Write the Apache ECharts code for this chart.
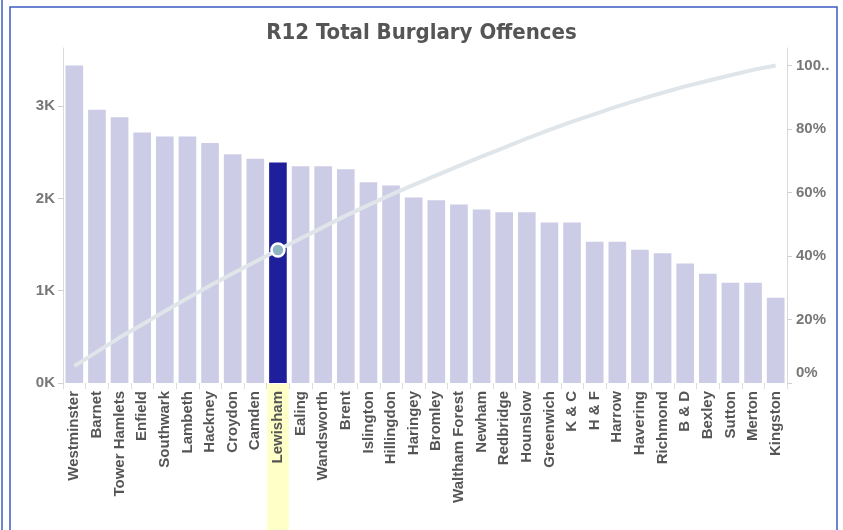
<!DOCTYPE html>
<html>
<head>
<meta charset="utf-8">
<title>R12 Total Burglary Offences</title>
<script src="https://cdn.jsdelivr.net/npm/echarts@6.0.0/dist/echarts.min.js"></script>
<style>
  html, body { margin: 0; padding: 0; background: #fff; }
  #burglary-chart { width: 843px; height: 530px; }
</style>
</head>
<body>
<div id="burglary-chart"></div>
<script>
// 数据
const boroughs = ['Westminster', 'Barnet', 'Tower Hamlets', 'Enfield', 'Southwark', 'Lambeth', 'Hackney',
  'Croydon', 'Camden', 'Lewisham', 'Ealing', 'Wandsworth', 'Brent', 'Islington', 'Hillingdon', 'Haringey',
  'Bromley', 'Waltham Forest', 'Newham', 'Redbridge', 'Hounslow', 'Greenwich', 'K & C', 'H & F', 'Harrow',
  'Havering', 'Richmond', 'B & D', 'Bexley', 'Sutton', 'Merton', 'Kingston']
const offences = [3440, 2960, 2880, 2715, 2670, 2670, 2600, 2480, 2430, 2390, 2350, 2350, 2315, 2175, 2140,
  2010, 1980, 1935, 1880, 1850, 1850, 1740, 1740, 1530, 1530, 1445, 1405, 1295, 1185, 1085, 1085, 925]
// running total % (line, right axis)
const runningPct = [5.3, 9.8, 14.3, 18.4, 22.6, 26.7, 30.7, 34.5, 38.2, 41.9, 45.5, 49.1, 52.7, 56.0, 59.3,
  62.4, 65.4, 68.4, 71.3, 74.1, 77.0, 79.7, 82.3, 84.7, 87.1, 89.3, 91.4, 93.4, 95.2, 96.9, 98.6, 100]
const countTicks = [0, 1000, 2000, 3000]
const pctTicks = [0, 20, 40, 60, 80, 100]
const selected = 'Lewisham'

const LABEL_FONT = '"Liberation Sans", Arial, sans-serif'

let chart = echarts.init(document.getElementById('burglary-chart'), null, {renderer: 'canvas'})

let barData = offences.map((v, i) => {
  if (boroughs[i] === selected) {
    return {value: v, itemStyle: {color: '#1f1f9c'}}
  }
  return v
})

let lineData = runningPct.map((v, i) => {
  if (boroughs[i] === selected) {
    return {
      value: v,
      symbol: 'circle',
      symbolSize: 13,
      itemStyle: {color: '#8fb5c3', borderColor: '#fff', borderWidth: 2.5}
    }
  }
  return {value: v, symbol: 'none'}
})

let option = {
  animation: false,
  title: {
    text: 'R12 Total Burglary Offences',
    left: 'center',
    top: 17,
    textStyle: {
      fontFamily: '"DejaVu Sans Condensed", sans-serif',
      fontSize: 22,
      fontWeight: 'bold',
      color: '#555'
    }
  },
  grid: {
    left: 63,
    right: 56,
    top: 48,
    bottom: 147,
    containLabel: false,
    outerBoundsMode: 'none'
  },
  xAxis: {
    type: 'category',
    data: boroughs,
    boundaryGap: true,
    axisLine: {show: false},
    axisTick: {
      show: true,
      length: 6,
      lineStyle: {color: '#dcdcdc'}
    },
    axisLabel: {
      rotate: 90,
      interval: 0,
      margin: 1,
      formatter: (name) => name === selected ? '{hl|' + name + '}' : '{n|' + name + '}',
      rich: {
        n: {
          fontFamily: LABEL_FONT,
          fontSize: 15,
          fontWeight: 'bold',
          lineHeight: 16,
          color: '#555',
          padding: [0, 7, 0, 0]
        },
        hl: {
          fontFamily: LABEL_FONT,
          fontSize: 15,
          fontWeight: 'bold',
          lineHeight: 16,
          color: '#555',
          backgroundColor: '#ffffc8',
          padding: [3.3, 7, 3.3, 80]
        }
      }
    }
  },
  yAxis: [
    {
      type: 'value',
      position: 'left',
      min: 0,
      max: 3630,
      splitLine: {show: false},
      axisLine: {show: true, lineStyle: {color: '#d9d9d9'}},
      axisTick: {show: true, length: 5, customValues: countTicks, lineStyle: {color: '#d0d0d0'}},
      axisLabel: {
        customValues: countTicks,
        margin: 8,
        fontFamily: LABEL_FONT,
        fontSize: 15,
        fontWeight: 'bold',
        color: '#777',
        formatter: (v) => (v / 1000) + 'K'
      }
    },
    {
      type: 'value',
      position: 'right',
      min: 0,
      max: 105.5,
      splitLine: {show: false},
      axisLine: {show: true, lineStyle: {color: '#d9d9d9'}},
      axisTick: {show: true, length: 5, customValues: pctTicks, lineStyle: {color: '#d0d0d0'}},
      axisLabel: {
        customValues: pctTicks,
        margin: 9,
        fontFamily: LABEL_FONT,
        fontSize: 15,
        fontWeight: 'bold',
        color: '#777',
        // 0% sits above its tick, 100% is cut short
        formatter: (v) => v === 0 ? '{z|0%}' : (v === 100 ? '100..' : v + '%'),
        rich: {
          z: {
            fontFamily: LABEL_FONT,
            fontSize: 15,
            fontWeight: 'bold',
            color: '#777',
            padding: [0, 0, 20, 0]
          }
        }
      }
    }
  ],
  series: [
    {
      name: 'Offences',
      type: 'bar',
      yAxisIndex: 0,
      data: barData,
      barCategoryGap: '22%',
      itemStyle: {color: '#cccce6'},
      z: 2
    },
    {
      name: 'Running total',
      type: 'line',
      yAxisIndex: 1,
      data: lineData,
      symbol: 'none',
      lineStyle: {color: '#dfe5e9', width: 4},
      z: 3
    }
  ],
  // 外框
  graphic: [
    {
      type: 'rect',
      shape: {x: 10, y: 7, width: 827, height: 540},
      style: {fill: 'none', stroke: '#3a5cc4', lineWidth: 1.5},
      silent: true
    },
    {
      type: 'line',
      shape: {x1: 2, y1: 0, x2: 2, y2: 530},
      style: {stroke: '#3a5cc4', lineWidth: 1.5},
      silent: true
    }
  ]
}

chart.setOption(option)
</script>
</body>
</html>
